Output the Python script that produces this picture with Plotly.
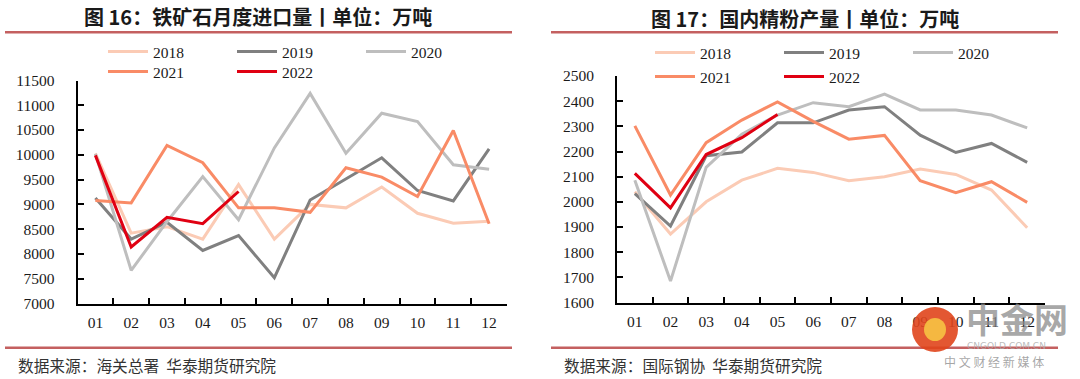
import plotly.graph_objects as go

W, H = 1080, 379

months = ["01", "02", "03", "04", "05", "06", "07", "08", "09", "10", "11", "12"]
years = ["2018", "2019", "2020", "2021", "2022"]
colors = {"2018": "#FBCBB5", "2019": "#808080", "2020": "#BEBEBE", "2021": "#F98B66", "2022": "#E00012"}

# 图16 铁矿石月度进口量（万吨）
imp_2018 = [10030, 8420, 8550, 8300, 9400, 8300, 9000, 8930, 9350, 8820, 8620, 8660]
imp_2019 = [9130, 8300, 8640, 8070, 8370, 7520, 9090, 9520, 9940, 9280, 9070, 10120]
imp_2020 = [10020, 7670, 8650, 9560, 8690, 10140, 11240, 10030, 10840, 10670, 9800, 9710]
imp_2021 = [9080, 9030, 10190, 9840, 8930, 8930, 8840, 9740, 9550, 9160, 10490, 8610]
imp_2022 = [9990, 8140, 8740, 8610, 9260]

# 图17 国内精粉产量（万吨）
ore_2018 = [2040, 1872, 2000, 2086, 2133, 2117, 2084, 2100, 2130, 2109, 2047, 1897]
ore_2019 = [2033, 1904, 2183, 2198, 2314, 2314, 2365, 2378, 2265, 2196, 2232, 2157]
ore_2020 = [2086, 1685, 2137, 2269, 2345, 2394, 2378, 2428, 2365, 2365, 2345, 2294]
ore_2021 = [2302, 2027, 2235, 2325, 2397, 2320, 2249, 2264, 2084, 2036, 2080, 1998]
ore_2022 = [2113, 1976, 2188, 2255, 2347]

left_series = {"2018": imp_2018, "2019": imp_2019, "2020": imp_2020, "2021": imp_2021, "2022": imp_2022}
right_series = {"2018": ore_2018, "2019": ore_2019, "2020": ore_2020, "2021": ore_2021, "2022": ore_2022}

left_title = "图 16：铁矿石月度进口量丨单位：万吨"
right_title = "图 17：国内精粉产量丨单位：万吨"
left_source = "数据来源：海关总署  华泰期货研究院"
right_source = "数据来源：国际钢协  华泰期货研究院"

SERIF = "Liberation Serif"
CJK = "Noto Sans CJK SC"

fig = go.Figure()

row1 = ["2018", "2019", "2020"]
for y in years:
    fig.add_trace(go.Scatter(
        x=months[:len(left_series[y])], y=left_series[y], name=y, mode="lines",
        line=dict(color=colors[y], width=3), xaxis="x", yaxis="y",
        legend="legend" if y in row1 else "legend2"))
for y in years:
    fig.add_trace(go.Scatter(
        x=months[:len(right_series[y])], y=right_series[y], name=y, mode="lines",
        line=dict(color=colors[y], width=3), xaxis="x2", yaxis="y2",
        legend="legend3" if y in row1 else "legend4"))

def px_x(p):
    return p / W

def px_y(p):
    return 1 - p / H

axis_common = dict(
    showline=True, linecolor="black", linewidth=2, mirror=False,
    ticks="inside", tickcolor="black", tickwidth=1.5, ticklen=6,
    showgrid=False, zeroline=False, automargin=False,
    tickfont=dict(family=SERIF, size=15.5, color="#1a1a1a"),
)

fig.update_layout(
    width=W, height=H,
    margin=dict(l=0, r=0, t=0, b=0, pad=0),
    paper_bgcolor="white", plot_bgcolor="white",
    showlegend=True,
    xaxis=dict(axis_common, domain=[px_x(77.5), px_x(507)], anchor="y", type="category",
               categoryorder="array", categoryarray=months, tickson="boundaries",
               range=[-0.5, 11.5], ticklabelstandoff=4),
    yaxis=dict(axis_common, domain=[px_y(303.5), px_y(80.5)], anchor="x",
               range=[7000, 11500], dtick=500, tickformat="d", ticklabelstandoff=18),
    xaxis2=dict(axis_common, domain=[px_x(617), px_x(1045)], anchor="y2", type="category",
                categoryorder="array", categoryarray=months, tickson="boundaries",
                range=[-0.5, 11.5], ticklabelstandoff=4),
    yaxis2=dict(axis_common, domain=[px_y(302.5), px_y(76)], anchor="x2",
                range=[1600, 2500], dtick=100, tickformat="d", ticklabelstandoff=18),
)

leg_common = dict(orientation="h", xanchor="left", yanchor="middle", bgcolor="rgba(0,0,0,0)",
                  font=dict(family=SERIF, size=15.5, color="#1a1a1a"), itemwidth=40,
                  entrywidth=74, entrywidthmode="pixels", traceorder="normal",
                  itemclick=False, itemdoubleclick=False)
fig.update_layout(
    legend=dict(leg_common, x=px_x(103), y=px_y(52)),
    legend2=dict(leg_common, x=px_x(103), y=px_y(72)),
    legend3=dict(leg_common, x=px_x(650), y=px_y(53)),
    legend4=dict(leg_common, x=px_x(650), y=px_y(77)),
)

shapes = []
for x0, x1 in [(5, 512), (551, 1058)]:
    for yy in [32.3, 347.7]:
        shapes.append(dict(type="line", xref="paper", yref="paper",
                           x0=px_x(x0), x1=px_x(x1), y0=px_y(yy), y1=px_y(yy),
                           line=dict(color="#C46060", width=2.5)))
fig.update_layout(shapes=shapes)

ann = []
ann.append(dict(text="<b>" + left_title + "</b>", x=px_x(258), y=px_y(17), xref="paper", yref="paper",
                showarrow=False, xanchor="center", yanchor="middle",
                font=dict(family=CJK, size=20, color="#1a1a1a")))
ann.append(dict(text="<b>" + right_title + "</b>", x=px_x(805), y=px_y(18), xref="paper", yref="paper",
                showarrow=False, xanchor="center", yanchor="middle",
                font=dict(family=CJK, size=20, color="#1a1a1a")))
ann.append(dict(text=left_source, x=px_x(16), y=px_y(365), xref="paper", yref="paper",
                showarrow=False, xanchor="left", yanchor="middle",
                font=dict(family=CJK, size=15.7, color="#333333")))
ann.append(dict(text=right_source, x=px_x(562), y=px_y(365), xref="paper", yref="paper",
                showarrow=False, xanchor="left", yanchor="middle",
                font=dict(family=CJK, size=15.7, color="#333333")))
# watermark
ann.append(dict(text="<b>中金网</b>", x=px_x(1070), y=px_y(318), xref="paper", yref="paper",
                showarrow=False, xanchor="right", yanchor="middle",
                font=dict(family=CJK, size=34, color="rgba(140,140,140,0.75)")))
ann.append(dict(text="CNGOLD.COM.CN", x=px_x(1048), y=px_y(346), xref="paper", yref="paper",
                showarrow=False, xanchor="right", yanchor="middle",
                font=dict(family="DejaVu Sans", size=9, color="rgba(170,170,170,0.8)")))
ann.append(dict(text="中 文 财 经 新 媒 体", x=px_x(1046), y=px_y(361), xref="paper", yref="paper",
                showarrow=False, xanchor="right", yanchor="middle",
                font=dict(family=CJK, size=12, color="rgba(150,150,150,0.85)")))
fig.update_layout(annotations=ann)

fig.add_shape(type="circle", xref="paper", yref="paper",
              x0=px_x(912), x1=px_x(958), y0=px_y(352), y1=px_y(307),
              fillcolor="#E0451C", line=dict(width=0), opacity=0.9)
fig.add_shape(type="circle", xref="paper", yref="paper",
              x0=px_x(924), x1=px_x(946), y0=px_y(341), y1=px_y(318),
              fillcolor="#F6C343", line=dict(width=0), opacity=0.9)

fig.write_html("out.html", config={"displayModeBar": False},
               post_script="document.body.style.margin='0px';document.body.style.overflow='hidden';")
